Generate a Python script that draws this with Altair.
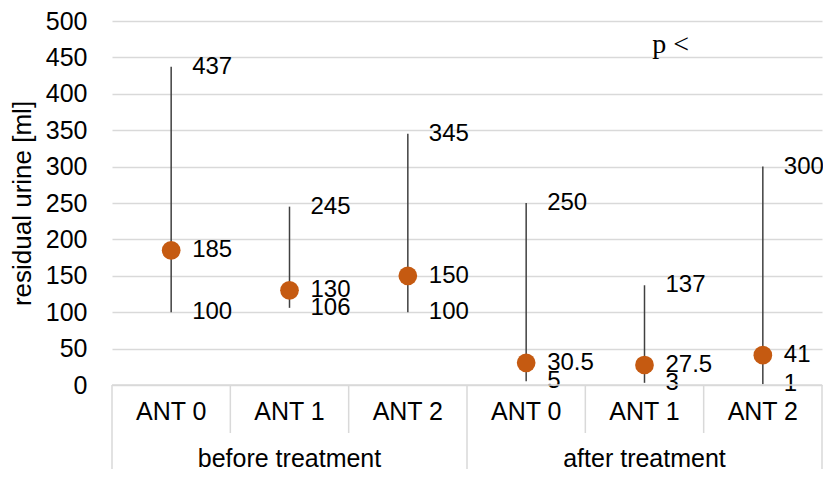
import altair as alt
import pandas as pd

# ---- data ----
groups = ["before treatment"] * 3 + ["after  treatment"] * 3
ants = ["ANT 0", "ANT 1", "ANT 2", "ANT 0", "ANT 1", "ANT 2"]
mins = [100, 106, 100, 5, 3, 1]
medians = [185, 130, 150, 30.5, 27.5, 41]
maxs = [437, 245, 345, 250, 137, 300]
group_names = ["before treatment", "after  treatment"]
y_ticks = list(range(0, 501, 50))
annotation_text = ["p <"]
annotation_pos = [(4.72, 456)]

pos = [i + 0.5 for i in range(len(ants))]
W, H = 710, 364
FONT = "Liberation Sans"
FS = 25
ORANGE = "#C55A11"
GRID = "#d9d9d9"

df = pd.DataFrame({"pos": pos, "ant": ants, "group": groups,
                   "min": mins, "median": medians, "max": maxs})

lab_rows = []
for p, a, b, c in zip(pos, mins, medians, maxs):
    for v in (a, b, c):
        lab_rows.append({"pos": p, "v": v, "t": f"{v:g}"})
labels = pd.DataFrame(lab_rows)

xs = alt.Scale(domain=[0, 6], nice=False, zero=False)
ys = alt.Scale(domain=[0, 500], nice=False)
X = alt.X("pos:Q", scale=xs, axis=None)

YAX = alt.Axis(values=y_ticks, grid=True, gridColor=GRID,
               gridWidth=1.5, gridOpacity=1, domain=False, ticks=False,
               labelOverlap=False,
               labelFont=FONT, labelFontSize=FS, labelColor="#000",
               labelPadding=25,
               titleFont=FONT, titleFontSize=26, titleColor="#000",
               titleFontWeight="normal", titleX=-90, titleY=H / 2,
               titleAngle=270, titleAlign="center", titleBaseline="middle")
YT = "residual  urine [ml]"


def Y(field):
    return alt.Y(field, scale=ys, axis=YAX, title=YT)


rules = alt.Chart(df).mark_rule(color="#404040", strokeWidth=1.5).encode(
    x=X, y=Y("min:Q"), y2="max:Q",
)

points = alt.Chart(df).mark_circle(color=ORANGE, opacity=1, size=350).encode(
    x=X, y=Y("median:Q")
)

texts = alt.Chart(labels).mark_text(align="left", baseline="middle", dx=21,
                                    font=FONT, fontSize=24, color="#000").encode(
    x=X, y=Y("v:Q"), text="t:N"
)

ann = alt.Chart(pd.DataFrame({"x": [p[0] for p in annotation_pos],
                              "y": [p[1] for p in annotation_pos],
                              "t": annotation_text})).mark_text(
    font="Liberation Serif", fontSize=28, color="#000", align="center", baseline="alphabetic"
).encode(x=alt.X("x:Q", scale=xs, axis=None), y=Y("y:Q"), text="t:N")

# ---- two-level category axis drawn below the plot ----
top_line = alt.Chart(pd.DataFrame({"a": [0], "b": [6]})).mark_rule(
    color=GRID, strokeWidth=1.5).encode(
    x=alt.X("a:Q", scale=xs, axis=None), x2="b:Q", y=alt.value(H))

inner = alt.Chart(pd.DataFrame({"b": [1, 2, 4, 5]})).mark_rule(
    color=GRID, strokeWidth=1.5).encode(
    x=alt.X("b:Q", scale=xs, axis=None), y=alt.value(H), y2=alt.value(H + 48))

outer = alt.Chart(pd.DataFrame({"b": [0, 3, 6]})).mark_rule(
    color=GRID, strokeWidth=1.5).encode(
    x=alt.X("b:Q", scale=xs, axis=None), y=alt.value(H), y2=alt.value(H + 100))

ant_text = alt.Chart(df).mark_text(font=FONT, fontSize=FS, color="#000",
                                   baseline="middle").encode(
    x=X, y=alt.value(H + 27), text="ant:N")

grp = alt.Chart(pd.DataFrame({"c": [1.5, 4.5], "g": group_names})).mark_text(
    font=FONT, fontSize=FS, color="#000", baseline="middle").encode(
    x=alt.X("c:Q", scale=xs, axis=None), y=alt.value(H + 74), text="g:N")

chart = alt.layer(rules, points, texts, ann, top_line, inner, outer, ant_text, grp).properties(
    width=W, height=H,
    autosize=alt.AutoSizeParams(type="none"),
    padding={"left": 104, "top": 13, "right": 1, "bottom": 84},
).configure_view(stroke=None)

chart.save("out.html", embed_options={"renderer": "svg", "actions": False})
